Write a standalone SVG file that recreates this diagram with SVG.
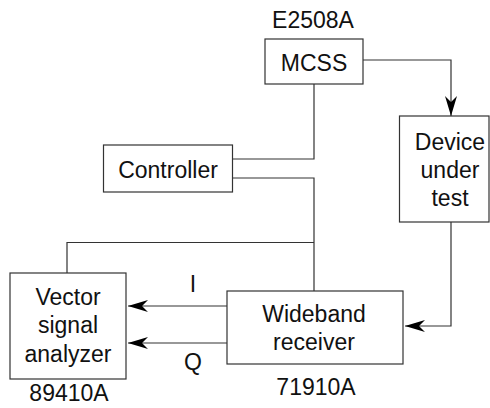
<svg xmlns="http://www.w3.org/2000/svg" width="490" height="408" viewBox="0 0 490 408">
<defs>
<style>
.box{fill:#fff;stroke:#333;stroke-width:1.2}
.ln{fill:none;stroke:#333;stroke-width:1.2}
text{font-family:"Liberation Sans",Arial,sans-serif;font-size:23px;fill:#111;text-anchor:middle}
</style>
<marker id="ah" markerUnits="userSpaceOnUse" markerWidth="26" markerHeight="16" viewBox="-22 -8 24 16" refX="0" refY="0" orient="auto">
<path d="M0,0 L-20,-6 L-14,0 L-20,6 Z" fill="#000"/>
</marker>
</defs>
<g id="connectors">
<path class="ln" d="M363,60 H451 V116" marker-end="url(#ah)"/>
<path class="ln" d="M314,84 V159 H232"/>
<path class="ln" d="M232,178 H314 V291"/>
<path class="ln" d="M314,242.5 H67 V273"/>
<path class="ln" d="M451,222 V326 H405" marker-end="url(#ah)"/>
<path class="ln" d="M227,306 H128" marker-end="url(#ah)"/>
<path class="ln" d="M227,343 H128" marker-end="url(#ah)"/>
<text x="193" y="292">I</text>
<text x="193" y="370">Q</text>
</g>
<g id="mcss">
<text x="313" y="28">E2508A</text>
<rect class="box" x="265" y="39" width="98" height="45"/>
<text x="314" y="71">MCSS</text>
</g>
<g id="dut">
<rect class="box" x="399.5" y="116" width="89.5" height="106"/>
<text x="450" y="150">Device</text>
<text x="450" y="178">under</text>
<text x="450" y="206">test</text>
</g>
<g id="controller">
<rect class="box" x="103.5" y="145" width="129" height="47"/>
<text x="168" y="178">Controller</text>
</g>
<g id="vsa">
<rect class="box" x="10" y="273" width="116" height="106"/>
<text x="68" y="305">Vector</text>
<text x="68" y="333">signal</text>
<text x="68" y="362">analyzer</text>
<text x="69" y="401">89410A</text>
</g>
<g id="wideband">
<rect class="box" x="227" y="291" width="176" height="73"/>
<text x="314" y="322">Wideband</text>
<text x="314" y="350">receiver</text>
<text x="316" y="395">71910A</text>
</g>
</svg>
